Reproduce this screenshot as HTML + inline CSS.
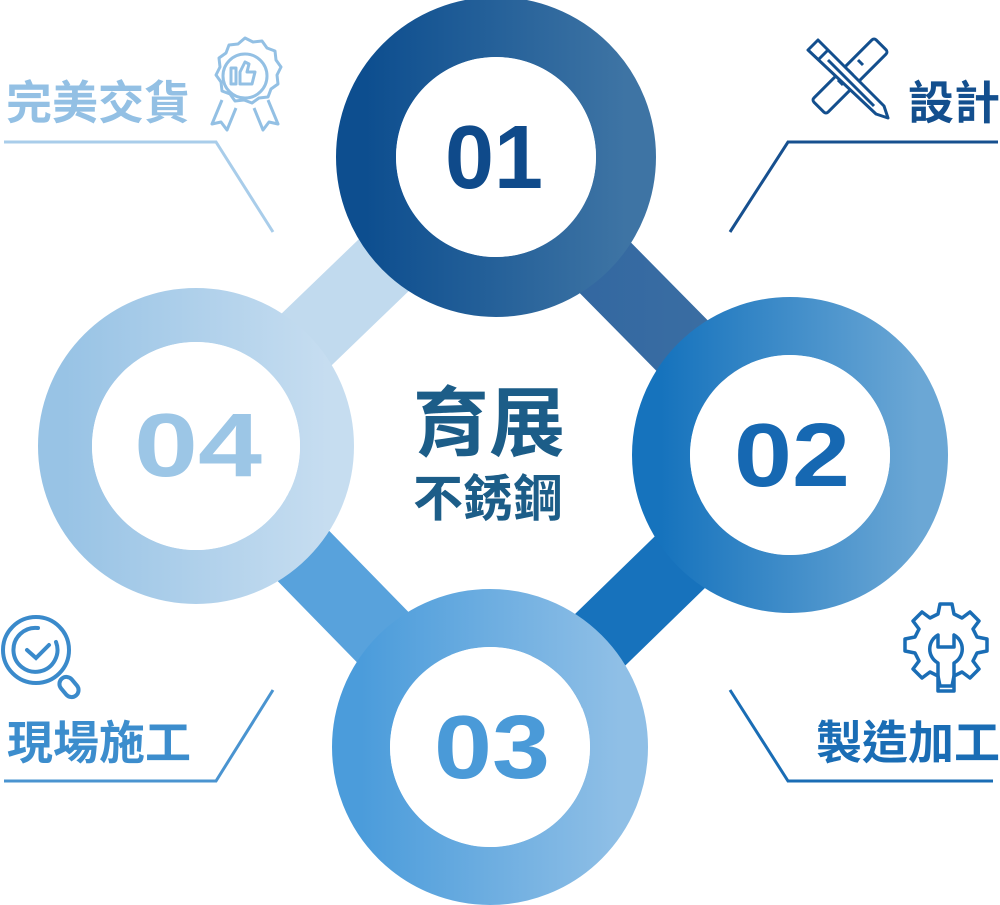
<!DOCTYPE html>
<html><head><meta charset="utf-8"><style>
html,body{margin:0;padding:0;background:#fff;}
svg{display:block}
text{font-family:"Liberation Sans","Noto Sans CJK TC",sans-serif;font-weight:bold;}
</style></head><body>
<svg width="1000" height="905" viewBox="0 0 1000 905" xmlns="http://www.w3.org/2000/svg">
<defs>
<linearGradient id="g1" x1="0" x2="1"><stop offset="0" stop-color="#0d4e8f"/><stop offset="1" stop-color="#3e74a4"/></linearGradient>
<linearGradient id="g2" x1="0" x2="1"><stop offset="0" stop-color="#1673bd"/><stop offset="1" stop-color="#6ba7d5"/></linearGradient>
<linearGradient id="g3" x1="0" x2="1"><stop offset="0" stop-color="#4b9cdb"/><stop offset="1" stop-color="#8fbfe6"/></linearGradient>
<linearGradient id="g4" x1="0" x2="1"><stop offset="0" stop-color="#98c3e5"/><stop offset="1" stop-color="#c6ddf0"/></linearGradient>
<linearGradient id="b12" x1="0" x2="1"><stop offset="0" stop-color="#2e64a0"/><stop offset="1" stop-color="#3f71a3"/></linearGradient>
</defs>
<line x1="496" y1="157" x2="790" y2="455" stroke="url(#b12)" stroke-width="72"/>
<line x1="790" y1="455" x2="490" y2="747" stroke="#1772bc" stroke-width="72"/>
<line x1="490" y1="747" x2="196" y2="446" stroke="#58a2dc" stroke-width="72"/>
<line x1="196" y1="446" x2="496" y2="157" stroke="#c1daee" stroke-width="72"/>
<circle cx="496" cy="157" r="130" fill="none" stroke="url(#g1)" stroke-width="60"/>
<circle cx="790" cy="455" r="129" fill="none" stroke="url(#g2)" stroke-width="58"/>
<circle cx="490" cy="747" r="129" fill="none" stroke="url(#g3)" stroke-width="58"/>
<circle cx="196" cy="446" r="131" fill="none" stroke="url(#g4)" stroke-width="54"/>
<circle cx="496" cy="157" r="100" fill="#fff"/>
<circle cx="790" cy="455" r="100" fill="#fff"/>
<circle cx="490" cy="747" r="100" fill="#fff"/>
<circle cx="196" cy="446" r="104" fill="#fff"/>
<text x="494" y="188" font-size="90" text-anchor="middle" fill="#0f4a8a" textLength="98" lengthAdjust="spacingAndGlyphs">01</text>
<text x="792" y="486" font-size="90" text-anchor="middle" fill="#1668b2" textLength="116" lengthAdjust="spacingAndGlyphs">02</text>
<text x="492" y="778" font-size="90" text-anchor="middle" fill="#4a9ad8" textLength="116" lengthAdjust="spacingAndGlyphs">03</text>
<text x="198" y="476" font-size="90" text-anchor="middle" fill="#9cc6e6" textLength="128" lengthAdjust="spacingAndGlyphs">04</text>
<text x="489" y="450" font-size="76" text-anchor="middle" fill="#1c5d88">育展</text>
<text x="488" y="516" font-size="50" text-anchor="middle" fill="#1c5d88">不銹鋼</text>
<polyline points="4,142 216,142 273,232" fill="none" stroke="#a9cdea" stroke-width="3"/>
<polyline points="730,232 788,142 998,142" fill="none" stroke="#17508f" stroke-width="3"/>
<polyline points="4,781 216,781 273,690" fill="none" stroke="#4a94d0" stroke-width="3"/>
<polyline points="730,690 788,781 993,781" fill="none" stroke="#1a6db5" stroke-width="3"/>
<text x="6" y="119" font-size="46" fill="#93c0e4">完美交貨</text>
<text x="908" y="119" font-size="46" fill="#134f8e">設計</text>
<text x="7" y="759" font-size="46" fill="#3c8dcd">現場施工</text>
<text x="816" y="759" font-size="46" fill="#1a6db5">製造加工</text>
<g fill="none" stroke="#93c0e4" stroke-width="3" stroke-linejoin="round">
<path d="M245,38 l8,4 9,-1 5,7 8,3 1,9 5,7 -4,8 1,9 -7,5 -3,8 -9,1 -7,5 -8,-3 -9,1 -5,-7 -8,-3 -1,-9 -5,-7 4,-8 -1,-9 7,-5 3,-8 9,-1z"/>
<circle cx="245" cy="76" r="22"/>
<path d="M236,68 v16 h-5 v-16z M240,84 h12 l3,-12 h-8 l2,-8 -4,-2 -5,10z"/>
<path d="M222,100 l-10,24 9,-2 6,8 9,-22 M268,100 l10,24 -9,-2 -6,8 -9,-22"/>
</g>
<g fill="none" stroke="#134f8e" stroke-width="3" stroke-linejoin="round">
<rect x="806" y="66" width="88" height="20" rx="3" transform="rotate(-45 850 76)"/>
<path d="M838,80 l5,5 M848,70 l5,5 M858,60 l5,5" />
<path d="M808,50 l10,-10 66,66 4,12 -12,-4z M818,60 l10,-10" fill="#fff"/>
<path d="M828,60 l46,46"/>
</g>
<g fill="none" stroke="#3a8acb" stroke-width="4" stroke-linecap="round">
<circle cx="36" cy="650" r="33"/>
<path d="M56,642 A22,22 0 1 1 38,628"/>
<path d="M27,650 l9,8 13,-13"/>
<rect x="62" y="676" width="14" height="22" rx="7" transform="rotate(-40 69 687)"/>
</g>
<g fill="none" stroke="#1a6db5" stroke-width="3.5" stroke-linejoin="round">
<path d="M940,604 h12 l2,10 8,4 8,-6 9,9 -6,8 4,8 10,2 v12 l-10,2 -4,8 6,8 -9,9 -8,-6 -8,4 -2,10 h-12 l-2,-10 -8,-4 -8,6 -9,-9 6,-8 -4,-8 -10,-2 v-12 l10,-2 4,-8 -6,-8 9,-9 8,6 8,-4z"/>
<path d="M938,635 a16,16 0 0 0 0,28 v28 h16 v-28 a16,16 0 0 0 0,-28 v12 h-16z"/>
</g>
</svg>
</body></html>
